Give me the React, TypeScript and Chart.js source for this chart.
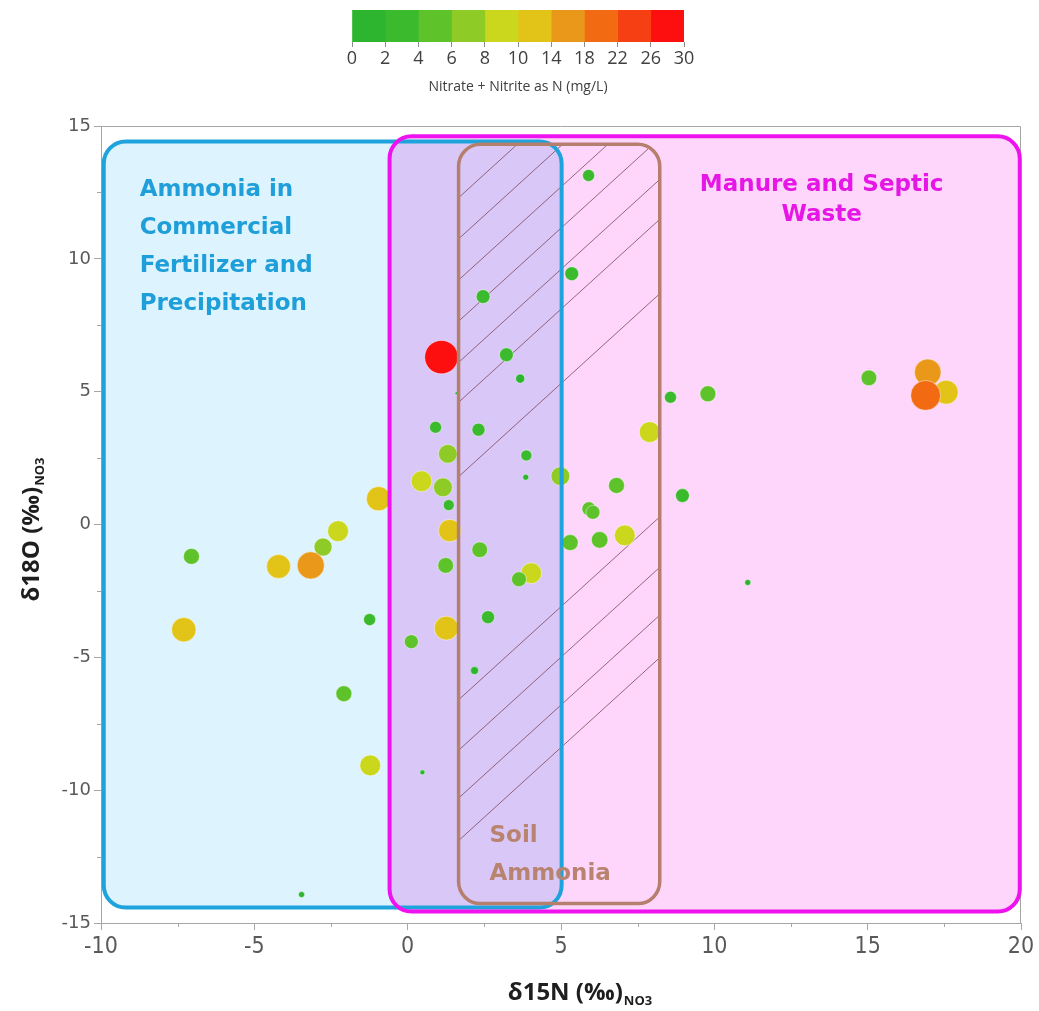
import React, { useEffect, useRef } from 'react';
import { Chart, registerables } from 'chart.js';

Chart.register(...registerables);

// ---------------- data ----------------
const d15N = [
  5.9, 5.35, 2.46, 1.1, 3.22, 3.67, 1.59, 8.57, 9.79, 15.04,
  17.56, 16.96, 16.89, 0.91, 2.31, 7.89, 1.31, 3.87, 3.85, 4.98,
  0.45, 1.15, 6.81, 1.34, -0.95, 8.96, 5.91, 6.04, 1.37, -2.76,
  -2.27, 5.3, 6.26, 7.08, -7.05, -4.21, -3.16, 2.35, 1.24, 4.03,
  3.63, 11.09, -7.3, -1.24, 1.26, 2.62, 0.12, 2.18, -2.08, -1.22,
  0.48, -3.46,
];
const d18O = [
  13.14, 9.44, 8.58, 6.3, 6.39, 5.49, 4.94, 4.79, 4.92, 5.52,
  4.98, 5.73, 4.86, 3.66, 3.57, 3.48, 2.66, 2.6, 1.78, 1.82,
  1.63, 1.4, 1.47, 0.73, 0.97, 1.09, 0.59, 0.46, -0.23, -0.85,
  -0.25, -0.68, -0.58, -0.41, -1.2, -1.58, -1.54, -0.95, -1.54, -1.83,
  -2.06, -2.18, -3.96, -3.58, -3.9, -3.49, -4.41, -5.5, -6.37, -9.07,
  -9.33, -13.93,
];
const nitrate = [
  2.8, 3.9, 3.9, 27.4, 3.9, 1.4, 0.03, 2.8, 5.4, 5.2,
  13.4, 16.8, 21.5, 2.8, 3.4, 9.8, 7.8, 2.25, 0.45, 7.8,
  9.9, 7.9, 5.4, 2.25, 13.8, 3.9, 4.0, 4.0, 11.5, 7.1,
  9.9, 5.4, 5.9, 9.8, 5.4, 13.4, 17.5, 5.2, 5.2, 9.8,
  4.6, 0.45, 13.9, 2.8, 13.4, 3.4, 4.0, 1.0, 5.4, 9.8,
  0.25, 0.45,
];

// colour scale (legend)
const binEdges = [0, 2, 4, 6, 8, 10, 14, 18, 22, 26, 30];
const binColors = ['#2db52f', '#3cba2d', '#5ec22a', '#8ecb27', '#cad71d', '#e2c419', '#e99819', '#f26b12', '#f73f14', '#fd0f10'];
const colorbarTicks = ['0', '2', '4', '6', '8', '10', '14', '18', '22', '26', '30'];
const colorbarTitle = 'Nitrate + Nitrite as N (mg/L)';

// axes
const xTitle = 'δ15N (‰)';
const yTitle = 'δ18O (‰)';
const axisSub = 'NO3';

// source regions (data units)
const regionXMin = [-9.91, -0.59, 1.66];
const regionXMax = [5.02, 19.96, 8.22];
const regionYMin = [-14.42, -14.57, -14.27];
const regionYMax = [14.42, 14.61, 14.31];
const regionFill = ['#ddf3fd', '#ffd6fb', null];
const regionStroke = ['#1fa3dc', '#ee12ee', '#b47f6d'];
const overlapFill = '#d9c7f7';
const hatchOffsets = [13.85, 12.3, 10.75, 9.2, 7.65, 6.1, 4.6, 1.8, -6.6, -8.5, -10.3, -11.9];

const blueLabel = ['Ammonia in', 'Commercial', 'Fertilizer and', 'Precipitation'];
const manureLabel = ['Manure and Septic', 'Waste'];
const soilLabel = ['Soil', 'Ammonia'];

// ---------------- helpers ----------------
function colorFor(v: number) {
  for (let i = 0; i < binColors.length; i++) {
    if (v < binEdges[i + 1]) return binColors[i];
  }
  return binColors[binColors.length - 1];
}
function radiusFor(v: number) {
  return 1 + 3.0 * Math.sqrt(v);
}
function rrPath(ctx: CanvasRenderingContext2D, x0: number, y0: number, x1: number, y1: number, r: number) {
  ctx.beginPath();
  ctx.moveTo(x0 + r, y0);
  ctx.lineTo(x1 - r, y0);
  ctx.arcTo(x1, y0, x1, y0 + r, r);
  ctx.lineTo(x1, y1 - r);
  ctx.arcTo(x1, y1, x1 - r, y1, r);
  ctx.lineTo(x0 + r, y1);
  ctx.arcTo(x0, y1, x0, y1 - r, r);
  ctx.lineTo(x0, y0 + r);
  ctx.arcTo(x0, y0, x0 + r, y0, r);
  ctx.closePath();
}

const regionsPlugin = {
  id: 'regions',
  beforeDatasetsDraw(chart: any) {
    const { ctx, chartArea, scales } = chart;
    const sx = scales.x, sy = scales.y;
    const box = (i: number) => [
      sx.getPixelForValue(regionXMin[i]), sy.getPixelForValue(regionYMax[i]),
      sx.getPixelForValue(regionXMax[i]), sy.getPixelForValue(regionYMin[i]),
    ];
    ctx.save();
    ctx.strokeStyle = '#a6a6a6';
    ctx.lineWidth = 1;
    ctx.beginPath();
    ctx.moveTo(chartArea.left, chartArea.top + 0.5);
    ctx.lineTo(chartArea.right - 0.5, chartArea.top + 0.5);
    ctx.lineTo(chartArea.right - 0.5, chartArea.bottom);
    ctx.stroke();

    const R = 22;
    const b0 = box(0), b1 = box(1), b2 = box(2);
    rrPath(ctx, b0[0], b0[1], b0[2], b0[3], R);
    ctx.fillStyle = regionFill[0];
    ctx.fill();
    rrPath(ctx, b1[0], b1[1], b1[2], b1[3], R);
    ctx.fillStyle = regionFill[1];
    ctx.fill();
    ctx.save();
    rrPath(ctx, b0[0], b0[1], b0[2], b0[3], R);
    ctx.clip();
    rrPath(ctx, b1[0], b1[1], b1[2], b1[3], R);
    ctx.fillStyle = overlapFill;
    ctx.fill();
    ctx.restore();

    // hatch in soil ammonia box
    ctx.save();
    rrPath(ctx, b2[0], b2[1], b2[2], b2[3], R);
    ctx.clip();
    ctx.strokeStyle = 'rgba(130, 80, 100, 0.85)';
    ctx.lineWidth = 1;
    const slope = 1.05;
    const xa = regionXMin[2] - 0.2, xb = regionXMax[2] + 0.2;
    hatchOffsets.forEach((c) => {
      ctx.beginPath();
      ctx.moveTo(sx.getPixelForValue(xa), sy.getPixelForValue(c + (xa - regionXMin[2]) * slope));
      ctx.lineTo(sx.getPixelForValue(xb), sy.getPixelForValue(c + (xb - regionXMin[2]) * slope));
      ctx.stroke();
    });
    ctx.restore();

    // minor ticks
    ctx.strokeStyle = '#a6a6a6';
    ctx.lineWidth = 1;
    for (let v = sy.min; v <= sy.max; v += 2.5) {
      if (Math.abs(v % 5) < 1e-6) continue;
      const py = Math.round(sy.getPixelForValue(v)) + 0.5;
      ctx.beginPath();
      ctx.moveTo(chartArea.left - 4, py);
      ctx.lineTo(chartArea.left, py);
      ctx.stroke();
    }
    for (let v = sx.min; v <= sx.max; v += 2.5) {
      if (Math.abs(v % 5) < 1e-6) continue;
      const px = Math.round(sx.getPixelForValue(v)) + 0.5;
      ctx.beginPath();
      ctx.moveTo(px, chartArea.bottom);
      ctx.lineTo(px, chartArea.bottom + 4);
      ctx.stroke();
    }
    ctx.restore();
  },
  afterDatasetsDraw(chart: any) {
    const { ctx, chartArea, scales } = chart;
    const sx = scales.x, sy = scales.y;
    const box = (i: number) => [
      sx.getPixelForValue(regionXMin[i]), sy.getPixelForValue(regionYMax[i]),
      sx.getPixelForValue(regionXMax[i]), sy.getPixelForValue(regionYMin[i]),
    ];
    const R = 22;
    const widths = [4, 4, 3.5];
    ctx.save();
    [0, 1, 2].forEach((i) => {
      const b = box(i);
      rrPath(ctx, b[0], b[1], b[2], b[3], R);
      ctx.strokeStyle = regionStroke[i];
      ctx.lineWidth = widths[i];
      ctx.stroke();
    });

    // region labels
    ctx.textBaseline = 'middle';
    ctx.font = 'bold 23px "DejaVu Sans"';
    ctx.fillStyle = '#1f9fd9';
    ctx.textAlign = 'left';
    blueLabel.forEach((t, k) => {
      ctx.fillText(t, sx.getPixelForValue(-8.74), sy.getPixelForValue(12.58) + k * 38);
    });
    ctx.fillStyle = '#e616e6';
    ctx.textAlign = 'center';
    manureLabel.forEach((t, k) => {
      ctx.fillText(t, sx.getPixelForValue(13.5), sy.getPixelForValue(12.76) + k * 30);
    });
    ctx.fillStyle = '#b8846f';
    ctx.textAlign = 'left';
    soilLabel.forEach((t, k) => {
      ctx.fillText(t, sx.getPixelForValue(2.67), sy.getPixelForValue(-11.71) + k * 38);
    });

    // axis titles with subscript
    const drawTitle = (cx: number, cy: number, rot: boolean, main: string) => {
      ctx.save();
      ctx.translate(cx, cy);
      if (rot) ctx.rotate(-Math.PI / 2);
      const mainFont = 'bold 24px "Open Sans"';
      const subFont = 'bold 13px "Open Sans"';
      ctx.font = mainFont;
      const w1 = ctx.measureText(main).width;
      ctx.font = subFont;
      const w2 = ctx.measureText(axisSub).width;
      const start = -(w1 + w2 + 1) / 2;
      ctx.textAlign = 'left';
      ctx.textBaseline = 'alphabetic';
      ctx.fillStyle = '#1e1e1e';
      ctx.font = mainFont;
      ctx.fillText(main, start, 8);
      ctx.font = subFont;
      ctx.fillText(axisSub, start + w1 + 1, 13);
      ctx.restore();
    };
    drawTitle((chartArea.left + chartArea.right) / 2 + 19, 992, false, xTitle);
    drawTitle(31, (chartArea.top + chartArea.bottom) / 2 + 5, true, yTitle);
    ctx.restore();
  },
};

export default function App() {
  const mainRef = useRef<HTMLCanvasElement>(null);
  const barRef = useRef<HTMLCanvasElement>(null);

  useEffect(() => {
    document.body.style.margin = '0';
    Chart.defaults.font.family = '"Open Sans", sans-serif';
    const points = d15N.map((x, i) => ({ x, y: d18O[i] }));
    const main = new Chart(mainRef.current!, {
      type: 'scatter',
      data: {
        datasets: [
          {
            data: points,
            pointBackgroundColor: (c: any) => colorFor(nitrate[c.dataIndex]),
            pointBorderColor: 'rgba(255,255,255,0.45)',
            pointBorderWidth: 1,
            pointRadius: (c: any) => radiusFor(nitrate[c.dataIndex]),
            pointHoverRadius: (c: any) => radiusFor(nitrate[c.dataIndex]),
          } as any,
        ],
      },
      options: {
        animation: false,
        responsive: false,
        devicePixelRatio: 1,
        layout: { padding: { top: 126, right: 18, left: 0, bottom: 0 } },
        plugins: { legend: { display: false }, tooltip: { enabled: false } },
        scales: {
          x: {
            type: 'linear',
            min: -10,
            max: 20,
            afterFit: (s: any) => { s.height = 88; },
            ticks: {
              stepSize: 5,
              autoSkip: false,
              maxRotation: 0,
              padding: 3,
              color: '#595959',
              font: { family: '"Liberation Sans Narrow", "DejaVu Sans Condensed", sans-serif', size: 23 },
            },
            grid: { drawOnChartArea: false, tickLength: 7, tickColor: '#a6a6a6' },
            border: { color: '#a6a6a6' },
          },
          y: {
            type: 'linear',
            min: -15,
            max: 15,
            afterFit: (s: any) => { s.width = 101; },
            ticks: {
              stepSize: 5,
              autoSkip: false,
              padding: 3,
              color: '#595959',
              font: { family: '"DejaVu Sans", sans-serif', size: 18 },
            },
            grid: { drawOnChartArea: false, tickLength: 7, tickColor: '#a6a6a6' },
            border: { color: '#a6a6a6' },
          },
        },
      } as any,
      plugins: [regionsPlugin],
    });

    const bar = new Chart(barRef.current!, {
      type: 'bar',
      data: {
        labels: [''],
        datasets: binColors.map((col, i) => ({
          data: [[i, i + 1]],
          backgroundColor: col,
          borderWidth: 0,
          barPercentage: 1,
          categoryPercentage: 1,
          grouped: false,
        })) as any,
      },
      options: {
        indexAxis: 'y',
        animation: false,
        responsive: false,
        devicePixelRatio: 1,
        layout: { padding: { top: 10, left: 20, right: 20, bottom: 0 } },
        plugins: { legend: { display: false }, tooltip: { enabled: false } },
        scales: {
          x: {
            type: 'linear',
            min: 0,
            max: binColors.length,
            afterFit: (s: any) => { s.height = 58; },
            ticks: {
              stepSize: 1,
              autoSkip: false,
              maxRotation: 0,
              padding: 1,
              color: '#404040',
              font: { size: 18 },
              callback: (v: any) => colorbarTicks[v] ?? '',
            },
            grid: { drawOnChartArea: false, tickLength: 5, tickColor: '#8c8c8c' },
            border: { display: false },
            title: {
              display: true,
              text: colorbarTitle,
              color: '#404040',
              font: { size: 14 },
              padding: { top: 0, bottom: 5 },
            },
          },
          y: { display: false },
        },
      } as any,
    });

    return () => {
      main.destroy();
      bar.destroy();
    };
  }, []);

  return (
    <div style={{ position: 'relative', width: 1039, height: 1011, background: '#fff' }}>
      <canvas ref={mainRef} width={1039} height={1011} style={{ position: 'absolute', left: 0, top: 0, width: 1039, height: 1011 }} />
      <canvas ref={barRef} width={372} height={100} style={{ position: 'absolute', left: 332, top: 0, width: 372, height: 100 }} />
    </div>
  );
}
